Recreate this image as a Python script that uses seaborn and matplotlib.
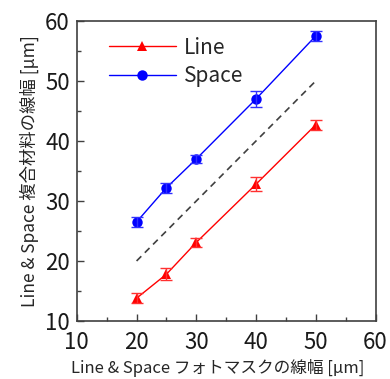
import matplotlib
matplotlib.use("Agg")
import matplotlib.pyplot as plt
from matplotlib.ticker import MultipleLocator
import seaborn as sns
import pandas as pd

mask_width = [20, 25, 30, 40, 50]
line_width = [13.8, 17.8, 23.1, 32.8, 42.7]
line_err = [0.8, 1.0, 0.8, 1.2, 0.8]
space_width = [26.5, 32.2, 37.0, 47.0, 57.5]
space_err = [0.8, 0.8, 0.6, 1.3, 0.8]
ref_x = [20, 50]
ref_y = [20, 50]

sns.set_style("ticks")
plt.rcParams["font.family"] = ["Noto Sans CJK JP", "DejaVu Sans"]

df = pd.DataFrame({
    "mask": mask_width * 2,
    "width": line_width + space_width,
    "kind": ["Line"] * 5 + ["Space"] * 5,
})

fig, ax = plt.subplots(figsize=(3.9, 3.79), dpi=100)
fig.subplots_adjust(left=0.197, right=0.963, top=0.945, bottom=0.153)

sns.lineplot(data=df, x="mask", y="width", hue="kind", style="kind",
             palette={"Line": "#ff0000", "Space": "#0000ff"},
             markers={"Line": "^", "Space": "o"}, dashes=False,
             markersize=7.5, markeredgewidth=0, linewidth=1, ax=ax)

ax.errorbar(mask_width, line_width, yerr=line_err, fmt="none",
            ecolor="#ff3030", elinewidth=1, capsize=4.5)
ax.errorbar(mask_width, space_width, yerr=space_err, fmt="none",
            ecolor="#3030ff", elinewidth=1, capsize=4.5)

sns.lineplot(x=ref_x, y=ref_y, color="#404040", linestyle=(0, (4, 3)),
             linewidth=1.2, ax=ax)

ax.set_xlim(10, 60)
ax.set_ylim(10, 60)
ax.xaxis.set_major_locator(MultipleLocator(10))
ax.yaxis.set_major_locator(MultipleLocator(10))
ax.xaxis.set_minor_locator(MultipleLocator(5))
ax.yaxis.set_minor_locator(MultipleLocator(5))
ax.tick_params(which="both", direction="in", length=5, width=1,
               labelsize=16, pad=5, color="#404040", labelcolor="#1a1a1a")
ax.tick_params(axis="x", pad=7)
ax.tick_params(which="minor", length=3)
for s in ax.spines.values():
    s.set_color("#404040")
    s.set_linewidth(1.2)

ax.set_xlabel("Line & Space フォトマスクの線幅 [μm]", fontsize=12,
              color="#262626")
ax.xaxis.set_label_coords(0.47, -0.125, transform=ax.transAxes)
ax.xaxis.label.set_verticalalignment("top")
ax.set_ylabel("Line & Space 複合材料の線幅 [μm]", fontsize=12.5,
              color="#262626", labelpad=4)

ax.legend(loc="upper left", bbox_to_anchor=(0.08, 0.975), frameon=False,
          fontsize=15, handlelength=3.2, handletextpad=0.4, labelspacing=0.3,
          borderaxespad=0)

fig.savefig("out.png", dpi=100)
